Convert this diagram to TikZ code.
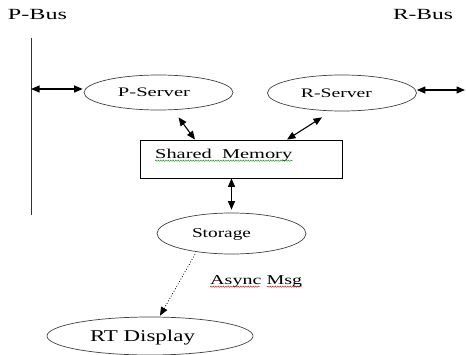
\documentclass[tikz,border=0pt]{standalone}
\usepackage{fontspec}
\setmainfont{Liberation Serif}
\usepackage{graphicx}
\usetikzlibrary{shapes.geometric,arrows.meta,decorations.pathmorphing}
\newcommand{\wtxt}[3]{{\fontsize{#1}{#1}\selectfont\resizebox{#2}{\height}{#3}}}
\begin{document}
\begin{tikzpicture}[x=1pt,y=1pt,
  ell/.style={ellipse, draw=black!75, line width=0.7pt, inner sep=0pt, text depth=0pt, text height=8.6pt, minimum width=149pt, minimum height=35pt},
  txt/.style={inner sep=0pt},
  dbl/.style={{Triangle[length=8.5pt,width=7pt]}-{Triangle[length=8.5pt,width=7pt]}, line width=1.1pt},
  asyncarr/.style={-{Triangle[length=8.5pt,width=7pt]}, dotted, line width=0.8pt},
  squig/.style={decorate, decoration={snake, amplitude=0.7pt, segment length=2.5pt}, line width=0.4pt}
]
\useasboundingbox (0,0) rectangle (466,354);
% bus labels
\node[txt, anchor=base] (pbuslbl) at (37.5,334.7) {\wtxt{15.5}{59pt}{P-Bus}};
\node[txt, anchor=base] (rbuslbl) at (423,334.7) {\wtxt{15.5}{60pt}{R-Bus}};
% P-bus line
\coordinate (pbtop) at (31,316);
\coordinate (pbbot) at (31,139);
\draw[line width=0.9pt, black!80] (pbtop) -- (pbbot);
\coordinate (pb) at (31,265);
\coordinate (rb) at (465,264);
% servers
\node[ell] (ps) at (158.5,261.5) {\wtxt{13}{72pt}{P-Server}\hspace*{9pt}};
\node[ell, minimum height=36pt] (rs) at (342,261) {\wtxt{13}{71pt}{R-Server}\hspace*{11pt}};
% shared memory
\node[draw, line width=0.8pt, minimum width=202pt, minimum height=38pt, inner sep=0pt] (sm) at (241,195) {};
\node[txt, anchor=base west] (smlbl) at (155,195.7) {\wtxt{13.5}{137pt}{Shared\ \ Memory}};
\draw[squig, green!60!black] (155,193.3) -- (292.5,193.3);
% storage
\node[ell, minimum height=41pt, text height=8.9pt] (st) at (231.5,120.5) {\wtxt{13.5}{59pt}{Storage}\hspace*{20pt}};
% RT display
\node[ell, minimum width=206pt, minimum height=38pt, text height=10.9pt] (rt) at (150,18) {\wtxt{16.5}{105pt}{RT Display}\hspace*{15pt}};
% async label
\node[txt, anchor=base west] (async) at (210,70) {\wtxt{13.5}{92pt}{Async Msg}};
\draw[squig, red!85!black] (210,67.3) -- (260,67.3);
\draw[squig, red!85!black] (267,67.3) -- (302,67.3);
% connectors
\draw[dbl] (pb) -- ([xshift=-1pt]pb -| ps.west);
\draw[dbl] (rs.east |- rb) -- (rb);
\draw[dbl] ([xshift=20pt,yshift=-7pt]ps.south) -- ([xshift=-46pt]sm.north);
\draw[dbl] ([xshift=-20pt,yshift=-6pt]rs.south) -- ([xshift=46pt]sm.north);
\draw[dbl] (st.north |- sm.south) -- ([yshift=3pt]st.north);
\draw[asyncarr] ([xshift=-36.5pt]st.south) -- ([xshift=10pt,yshift=1pt]rt.north);
\end{tikzpicture}
\end{document}
